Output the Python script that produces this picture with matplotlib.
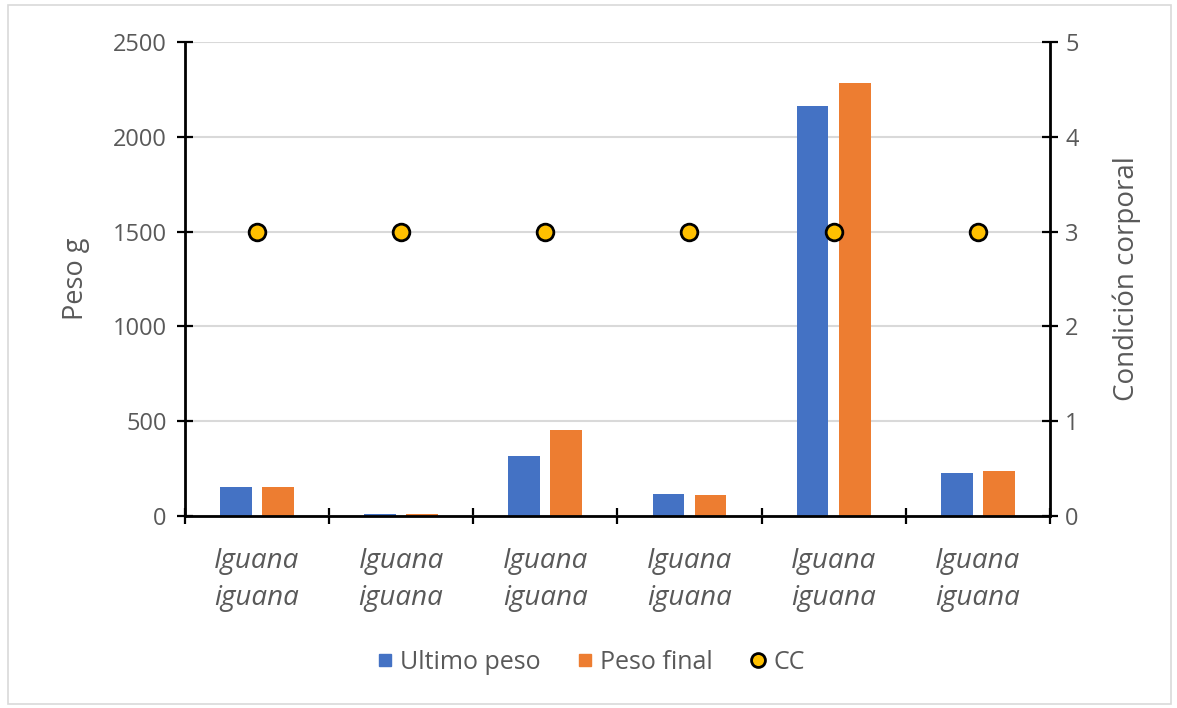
import numpy as np
import matplotlib.pyplot as plt
from matplotlib.patches import Rectangle
from matplotlib.lines import Line2D

plt.rcParams['font.family'] = ['Open Sans', 'DejaVu Sans']

categorias = ['Iguana\niguana'] * 6
ultimo_peso = [155, 12, 315, 115, 2160, 225]
peso_final = [155, 10, 455, 113, 2285, 240]
cc = [3, 3, 3, 3, 3, 3]

azul = '#4472c4'
naranja = '#ed7d31'
gris = '#595959'

fig = plt.figure(figsize=(11.77, 7.08), dpi=100)
fig.patches.append(Rectangle((0.007, 0.006), 0.988, 0.987, transform=fig.transFigure,
                             fill=False, edgecolor='#d9d9d9', linewidth=1.2))
ax = fig.add_axes([0.157, 0.271, 0.735, 0.670])

x = np.arange(len(categorias))
ancho = 0.22
ax.bar(x - 0.146, ultimo_peso, ancho, color=azul, zorder=2)
ax.bar(x + 0.146, peso_final, ancho, color=naranja, zorder=2)

ax.set_xlim(-0.5, len(categorias) - 0.5)
ax.set_ylim(0, 2500)
ax.set_yticks(np.arange(0, 2501, 500))
ax.grid(axis='y', color='#d9d9d9', linewidth=1.5, zorder=0)
ax.set_axisbelow(True)

ax.set_xticks(x)
ax.set_xticklabels(categorias, fontstyle='italic', fontsize=20, color=gris, linespacing=1.45)
ax.tick_params(axis='x', length=0, pad=22)
ax.set_xticks(np.arange(-0.5, len(categorias), 1), minor=True)
ax.tick_params(axis='x', which='minor', direction='inout', length=12, width=1.6, color='black')
ax.tick_params(axis='y', direction='inout', length=12, width=1.6, color='black',
               labelsize=17, labelcolor=gris, pad=7)

for s in ['top', 'right']:
    ax.spines[s].set_visible(False)
ax.spines['left'].set_linewidth(2)
ax.spines['bottom'].set_linewidth(2)
ax.set_ylabel('Peso g', fontsize=19.5, color=gris, labelpad=16)

ax2 = ax.twinx()
ax2.plot(x, cc, linestyle='none', marker='o', markersize=12, markerfacecolor='#ffc000',
         markeredgecolor='black', markeredgewidth=2, zorder=3)
ax2.set_ylim(0, 5)
ax2.set_yticks(range(0, 6))
ax2.tick_params(axis='y', direction='inout', length=12, width=1.6, color='black',
                labelsize=17, labelcolor=gris, pad=5)
for s in ['top', 'left', 'bottom']:
    ax2.spines[s].set_visible(False)
ax2.spines['right'].set_linewidth(2)
ax2.set_ylabel('Condición corporal', fontsize=20, color=gris, labelpad=24)

handles = [
    Line2D([], [], linestyle='none', marker='s', markersize=9, color=azul),
    Line2D([], [], linestyle='none', marker='s', markersize=9, color=naranja),
    Line2D([], [], linestyle='none', marker='o', markersize=10, markerfacecolor='#ffc000',
           markeredgecolor='black', markeredgewidth=2),
]
fig.legend(handles, ['Ultimo peso', 'Peso final', 'CC'], loc='center', ncol=3,
           bbox_to_anchor=(0.5, 0.064), frameon=False, fontsize=18, labelcolor=gris,
           handletextpad=0.1, columnspacing=1.3, handlelength=1.0)

fig.savefig('out.png', dpi=100)
